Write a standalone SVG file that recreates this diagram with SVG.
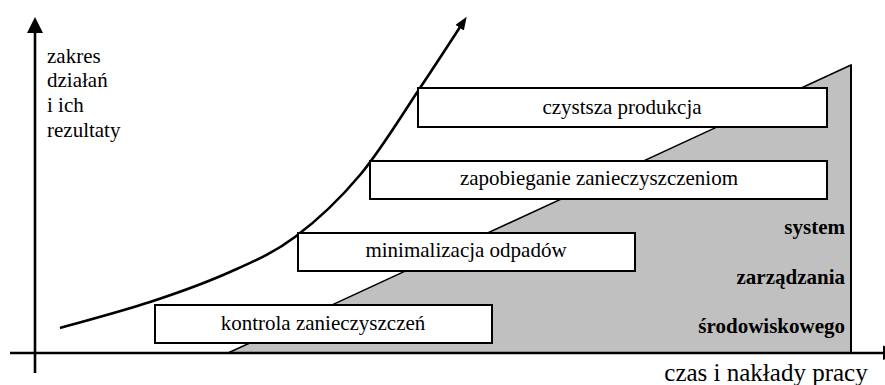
<svg xmlns="http://www.w3.org/2000/svg" width="885" height="385" viewBox="0 0 885 385">
<defs>
<style>
.box{fill:#fff;stroke:#000;stroke-width:2}
.ax{stroke:#000;stroke-width:2.6;fill:none}
.lbl{text-anchor:middle}
</style>
<marker id="ah" markerUnits="userSpaceOnUse" markerWidth="14" markerHeight="12" refX="8" refY="5" orient="auto">
<path d="M0,0 L13,5 L0,10 z" fill="#000"/>
</marker>
</defs>
<g id="area">
<polygon points="228,353 851,65 851,353" fill="#c0c0c0" stroke="#000" stroke-width="1.5"/>
<line x1="851" y1="65" x2="851" y2="353" stroke="#000" stroke-width="2"/>
</g>
<g id="connectors">
<line class="ax" x1="35" y1="373" x2="35" y2="30"/>
<polygon points="35,17 27,33 43,33" fill="#000"/>
<line class="ax" x1="10" y1="353" x2="884" y2="353"/>
<polygon points="883,345.5 883,360 900,352.7" fill="#000"/>
<path class="ax" d="M60,328 C75,323.7 121.7,311.3 150,302 C178.3,292.7 205.8,282.8 230,272 C254.2,261.2 273.3,253.2 295,237 C316.7,220.8 339.2,199.8 360,175 C380.8,150.2 402.7,113.7 420,88 C437.3,62.3 456.7,32.2 464,21" marker-end="url(#ah)"/>
</g>
<g id="ylabel" font-family="Liberation Serif, serif" font-size="21">
<text x="47" y="63">zakres</text>
<text x="47" y="87">działań</text>
<text x="47" y="112">i ich</text>
<text x="47" y="137">rezultaty</text>
</g>
<g id="n1" font-family="Liberation Serif, serif" font-size="21">
<rect class="box" x="418" y="88" width="409" height="39"/>
<text class="lbl" x="622" y="114">czystsza produkcja</text>
</g>
<g id="n2" font-family="Liberation Serif, serif" font-size="21">
<rect class="box" x="370" y="161" width="457" height="38"/>
<text class="lbl" x="599" y="185">zapobieganie zanieczyszczeniom</text>
</g>
<g id="n3" font-family="Liberation Serif, serif" font-size="21">
<rect class="box" x="298" y="233" width="337" height="38"/>
<text class="lbl" x="466" y="257">minimalizacja odpadów</text>
</g>
<g id="n4" font-family="Liberation Serif, serif" font-size="21">
<rect class="box" x="155" y="305" width="337" height="38"/>
<text class="lbl" x="323" y="330">kontrola zanieczyszczeń</text>
</g>
<g id="sys" font-family="Liberation Serif, serif" font-size="21" font-weight="bold" text-anchor="end">
<text x="845" y="234">system</text>
<text x="845" y="284">zarządzania</text>
<text x="845" y="333">środowiskowego</text>
</g>
<g id="xlabel" font-family="Liberation Serif, serif" font-size="25">
<text class="lbl" x="766" y="381">czas i nakłady pracy</text>
</g>
</svg>
